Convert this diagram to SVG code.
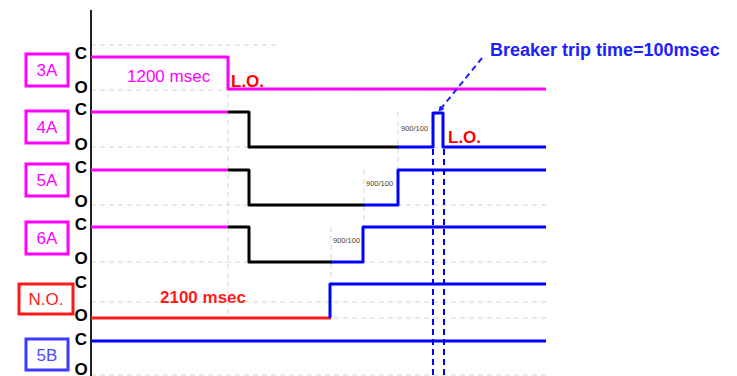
<svg xmlns="http://www.w3.org/2000/svg" width="737" height="376" viewBox="0 0 737 376">
<defs>
<style>
.grid{stroke:#d6d6cc;stroke-width:1;stroke-dasharray:5,4;fill:none}
.sig{fill:none;stroke-width:3;stroke-linejoin:round}
.mag{stroke:#ff00ff}
.blk{stroke:#000}
.blu{stroke:#0000ff}
.red{stroke:#ff1a1a}
.co{font-family:"Liberation Sans",Arial,sans-serif;font-weight:bold;font-size:17px;fill:#000;text-anchor:middle}
.lbl{font-family:"Liberation Sans",Arial,sans-serif;font-size:17px;text-anchor:middle}
.box{fill:#fff;stroke-width:3}
.tiny{font-family:"Liberation Sans",Arial,sans-serif;font-size:7.5px;fill:#4a4020}
.bold{font-family:"Liberation Sans",Arial,sans-serif;font-weight:bold}
</style>
<marker id="ah" markerWidth="6" markerHeight="6" refX="5" refY="3" orient="auto" markerUnits="userSpaceOnUse">
<path d="M0,0 L6,3 L0,6 z" fill="#2020ff"/>
</marker>
</defs>
<rect width="737" height="376" fill="#fff"/>

<g id="grid">
<line class="grid" x1="91" y1="45" x2="277" y2="45"/>
<line class="grid" x1="91" y1="90" x2="546" y2="90"/>
<line class="grid" x1="91" y1="147" x2="546" y2="147"/>
<line class="grid" x1="91" y1="205" x2="546" y2="205"/>
<line class="grid" x1="91" y1="262" x2="546" y2="262"/>
<line class="grid" x1="91" y1="302" x2="546" y2="302"/>
<line class="grid" x1="91" y1="318" x2="546" y2="318"/>
<line class="grid" x1="91" y1="375" x2="546" y2="375"/>
<line class="grid" x1="228" y1="57" x2="228" y2="318"/>
<line class="grid" x1="398" y1="112" x2="398" y2="170"/>
<line class="grid" x1="364" y1="170" x2="364" y2="227"/>
<line class="grid" x1="331" y1="227" x2="331" y2="284"/>
</g>

<line id="axis" x1="91" y1="10" x2="91" y2="376" stroke="#222" stroke-width="2"/>

<g id="row-3A">
<rect class="box" x="26" y="54" width="42" height="32" stroke="#ff00ff"/>
<text class="lbl" x="47" y="76" fill="#ff00ff">3A</text>
<text class="co" x="81" y="59">C</text>
<text class="co" x="81" y="93">O</text>
<polyline class="sig mag" points="91,57 228,57 228,89 546,89"/>
<text x="127" y="82" font-family="'Liberation Sans',Arial,sans-serif" font-size="17" fill="#ff00ff">1200 msec</text>
<text class="bold" x="231" y="87" font-size="17" fill="#ff0000">L.O.</text>
</g>

<g id="row-4A">
<rect class="box" x="26" y="111" width="42" height="32" stroke="#ff00ff"/>
<text class="lbl" x="47" y="133" fill="#ff00ff">4A</text>
<text class="co" x="81" y="115">C</text>
<text class="co" x="81" y="150">O</text>
<polyline class="sig mag" points="91,112 228,112"/>
<polyline class="sig blk" points="228,112 249,112 249,147 399,147"/>
<polyline class="sig blu" points="398,147 433,147 433,113 443,113 443,147 546,147"/>
<text class="tiny" x="401" y="131">900/100</text>
<text class="bold" x="448" y="143" font-size="17" fill="#ff0000">L.O.</text>
</g>

<g id="row-5A">
<rect class="box" x="26" y="164" width="42" height="32" stroke="#ff00ff"/>
<text class="lbl" x="47" y="186" fill="#ff00ff">5A</text>
<text class="co" x="81" y="173">C</text>
<text class="co" x="81" y="207">O</text>
<polyline class="sig mag" points="91,170 228,170"/>
<polyline class="sig blk" points="228,170 249,170 249,205 365,205"/>
<polyline class="sig blu" points="364,205 398,205 398,170 546,170"/>
<text class="tiny" x="366" y="186">900/100</text>
</g>

<g id="row-6A">
<rect class="box" x="26" y="222" width="42" height="32" stroke="#ff00ff"/>
<text class="lbl" x="47" y="244" fill="#ff00ff">6A</text>
<text class="co" x="81" y="230">C</text>
<text class="co" x="81" y="264">O</text>
<polyline class="sig mag" points="91,227 228,227"/>
<polyline class="sig blk" points="228,227 249,227 249,262 332,262"/>
<polyline class="sig blu" points="331,262 363,262 363,227 546,227"/>
<text class="tiny" x="333" y="243">900/100</text>
</g>

<g id="row-NO">
<rect class="box" x="19" y="284" width="54" height="30" stroke="#ff1a1a"/>
<text class="lbl" x="46" y="305" fill="#ff1a1a">N.O.</text>
<text class="co" x="81" y="288">C</text>
<text class="co" x="81" y="321">O</text>
<polyline class="sig red" points="91,318 331,318"/>
<polyline class="sig blu" points="330,318 330,284 546,284"/>
<text class="bold" x="160" y="303" font-size="17" fill="#ff1a1a">2100 msec</text>
</g>

<g id="row-5B">
<rect class="box" x="26" y="339" width="42" height="31" stroke="#3b3bff"/>
<text class="lbl" x="47" y="361" fill="#4a4aff">5B</text>
<text class="co" x="81" y="345">C</text>
<text class="co" x="81" y="375">O</text>
<polyline class="sig blu" points="91,341 546,341" stroke="#3030ff"/>
</g>

<g id="connectors">
<line x1="433" y1="149" x2="433" y2="376" stroke="#0000ff" stroke-width="2" stroke-dasharray="6,4"/>
<line x1="444" y1="149" x2="444" y2="376" stroke="#0000ff" stroke-width="2" stroke-dasharray="6,4"/>
<line x1="482" y1="58" x2="439" y2="111" stroke="#2020ff" stroke-width="2" stroke-dasharray="6,4" marker-end="url(#ah)"/>
</g>

<text id="note" class="bold" x="490" y="56" font-size="18" fill="#2020ff">Breaker trip time=100msec</text>
</svg>
